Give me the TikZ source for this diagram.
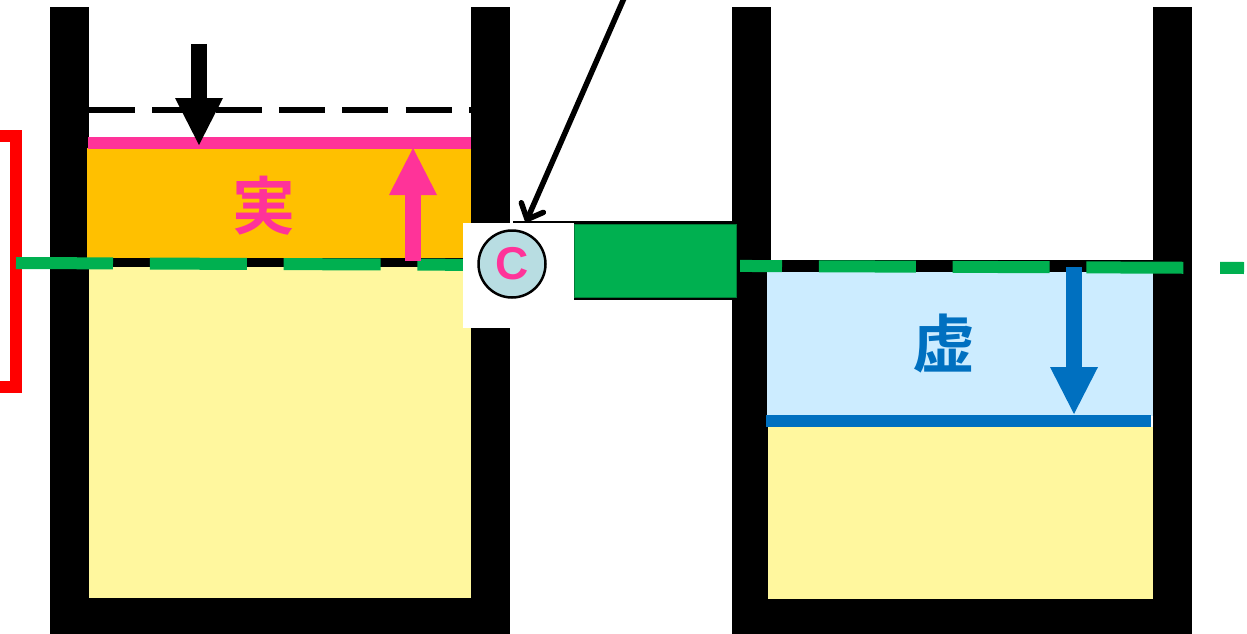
\documentclass[tikz,border=0pt]{standalone}
\usepackage{fontspec}
\setsansfont{Liberation Sans}
\newfontfamily\cjkfont{Noto Sans CJK JP}[BoldFont={Noto Sans CJK JP Bold}]
\usetikzlibrary{arrows.meta}
\definecolor{oilorange}{RGB}{255,192,0}
\definecolor{oilyellow}{RGB}{255,247,158}
\definecolor{oilblue}{RGB}{204,236,255}
\definecolor{levelpink}{RGB}{255,51,153}
\definecolor{levelblue}{RGB}{0,112,192}
\definecolor{pipegreen}{RGB}{0,176,80}
\definecolor{valvefill}{RGB}{184,221,226}
\tikzset{
  wall/.style={fill=black},
  bar/.style={line width=12pt},
  blockar/.style={line width=16pt, -{Triangle[length=47pt,width=48pt,line width=0pt]}},
  datum/.style={line width=12pt, draw=pipegreen, dash pattern=on 97pt off 36.8pt},
  kanji/.style={font=\cjkfont\bfseries\fontsize{63}{63}\selectfont, inner sep=0pt},
}
\begin{document}
\begin{tikzpicture}[x=1pt,y=-1pt]
\useasboundingbox (0,0) rectangle (1247,634);

% ============================ tank walls ==============================
\foreach \wx/\wb in {50/598,732/599}
{
  \fill[wall] (\wx,7) rectangle ++(39,627);
  \fill[wall] (\wx+421,7) rectangle ++(39,627);
  \fill[wall] (\wx,\wb) rectangle ++(460,36);
}

% ============================ red bracket =============================
\draw[line width=12pt, draw=red, miter limit=10] (-8,135.5) -- (16,135.5) -- (16,387) -- (-8,387);

% ============================ left tank ===============================
\fill[oilyellow] (89,267) rectangle (471,598);
\fill[oilorange] (87,148) rectangle (471,258);
\fill[black] (89,258) rectangle (471,267);
\draw[line width=6pt, dash pattern=on 46pt off 17.3pt] (89,110) -- (471,110);
\draw[bar, draw=levelpink] (88,143) -- (471,143);
\node[kanji, text=levelpink] (jitsu) at (264,206) {実};

% ============================ right tank ==============================
\fill[oilblue] (767,272) rectangle (1153,416);
\fill[oilyellow] (768,427) rectangle (1153,599);
\fill[black] (770,260) rectangle (1153,272);
\draw[bar, draw=levelblue] (766,421) -- (1151,421);
\node[kanji, text=levelblue] (kyo) at (944,344) {虚};

% ============================ datum and pipe ==========================
\draw[datum] (16,263) -- (1244,268);
\fill[black] (513,221) rectangle (740,300);
\fill[white] (463,223) rectangle (574,328);
\node[rectangle, draw=pipegreen!70!black, fill=pipegreen, line width=1pt,
      minimum width=162pt, minimum height=73pt, inner sep=0pt] (pipe) at (655.5,261) {};
\node[circle, draw=black, line width=2.5pt, fill=valvefill, minimum size=67pt,
      inner sep=0pt, text=levelpink, font=\sffamily\bfseries\fontsize{46}{46}\selectfont] (valve) at (512,264) {C};

% ============================ arrows ==================================
\draw[blockar, draw=black, fill=black] (199,44) -- (199,145);
\draw[blockar, draw=levelpink, fill=levelpink] (413,261) -- (413,148);
\draw[blockar, draw=levelblue, fill=levelblue] (1074,267) -- (1074,414);
\coordinate (ptrtop) at (625,-4);
\coordinate (ptrend) at (526,222);
\draw[line width=5.5pt, line cap=round, -{Straight Barb[length=13pt,width=24pt,line width=5.5pt,round]}] (ptrtop) -- (ptrend);

\end{tikzpicture}
\end{document}
